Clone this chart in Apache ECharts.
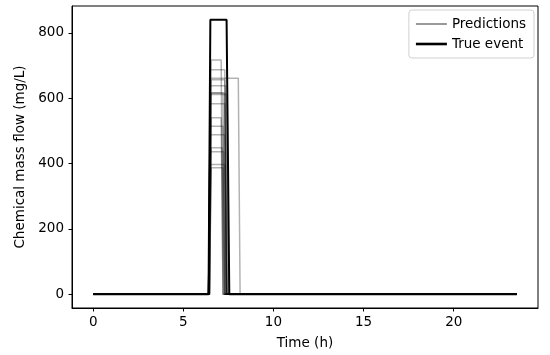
<!DOCTYPE html>
<html>
<head>
<meta charset="utf-8">
<script src="https://cdn.jsdelivr.net/npm/echarts@6/dist/echarts.min.js"></script>
<style>html,body{margin:0;padding:0;background:#fff}#c{width:550px;height:355px}</style>
</head>
<body>
<div id="c"></div>
<script>
// True event pulse (time h, value mg/L)
var trueTimes = [0, 6.4, 6.5, 7.4, 7.55, 23.5];
var trueValues = [0, 0, 840, 840, 0, 0];

// Predicted pulses: height, start and end time (h)
var predHeights = [717, 687, 661, 656, 638, 616, 616, 611, 583, 540, 514, 488, 448, 436, 397, 387];
var predStarts  = [6.55, 6.5, 6.5, 6.55, 6.5, 6.5, 6.55, 6.5, 6.5, 6.55, 6.5, 6.5, 6.55, 6.5, 6.5, 6.55];
var predEnds    = [7.1, 7.3, 8.05, 7.3, 7.35, 7.2, 7.3, 7.4, 7.3, 7.1, 7.2, 7.3, 7.15, 7.25, 7.3, 7.2];
var seriesEnd = 23.5;

var xTicks = [0, 5, 10, 15, 20];
var yTicks = [0, 200, 400, 600, 800];

var series = [];
for (var i = 0; i < predHeights.length; i++) {
  var s = predStarts[i], e = predEnds[i], h = predHeights[i];
  series.push({
    name: 'Predictions', type: 'line', symbol: 'none', silent: true,
    lineStyle: { color: 'rgba(0,0,0,0.3)', width: 1.5 },
    itemStyle: { color: 'rgba(0,0,0,0.3)' },
    data: [[0, 0], [s - 0.1, 0], [s, h], [e, h], [e + 0.1, 0], [seriesEnd, 0]]
  });
}
series.push({
  name: 'True event', type: 'line', symbol: 'none', silent: true, z: 5,
  lineStyle: { color: '#000', width: 2 },
  itemStyle: { color: '#000' },
  data: trueTimes.map(function (t, k) { return [t, trueValues[k]]; })
});

var font = 'DejaVu Sans';
var fs = 13.5;
var chart = echarts.init(document.getElementById('c'), null, { renderer: 'canvas' });
chart.setOption({
  animation: false,
  backgroundColor: '#fff',
  grid: { left: 72, right: 12, top: 6, bottom: 46, show: true, borderColor: '#000', borderWidth: 1, containLabel: false },
  legend: {
    orient: 'vertical', right: 16, top: 10,
    padding: [7, 8, 7, 7], itemGap: 6, itemWidth: 31, itemHeight: 14, itemTextGap: 12,
    borderColor: '#d0d0d0', borderWidth: 1, borderRadius: 3, backgroundColor: 'rgba(255,255,255,0.8)',
    textStyle: { fontFamily: font, fontSize: fs, color: '#000' },
    data: [
      { name: 'Predictions', icon: 'path://M0,0L31,0L31,2L0,2Z', itemStyle: { color: '#999' } },
      { name: 'True event', icon: 'path://M0,0L31,0L31,2.6L0,2.6Z', itemStyle: { color: '#000' } }
    ]
  },
  xAxis: {
    type: 'value', min: -1.175, max: 24.675,
    name: 'Time (h)', nameLocation: 'middle', nameGap: 28,
    nameTextStyle: { fontFamily: font, fontSize: fs, color: '#000' },
    axisLine: { show: true, onZero: false, lineStyle: { color: '#000', width: 1 } },
    axisTick: { show: true, length: 3.5, customValues: xTicks, lineStyle: { color: '#000' } },
    axisLabel: { customValues: xTicks, margin: 7, fontFamily: font, fontSize: fs, color: '#000' },
    splitLine: { show: false }
  },
  yAxis: {
    type: 'value', min: -42, max: 882,
    name: 'Chemical mass flow (mg/L)', nameLocation: 'middle', nameGap: 42,
    nameTextStyle: { fontFamily: font, fontSize: fs, color: '#000' },
    axisLine: { show: true, onZero: false, lineStyle: { color: '#000', width: 1 } },
    axisTick: { show: true, length: 3.5, customValues: yTicks, lineStyle: { color: '#000' } },
    axisLabel: { customValues: yTicks, margin: 8, fontFamily: font, fontSize: fs, color: '#000' },
    splitLine: { show: false }
  },
  series: series
});
</script>
</body>
</html>
